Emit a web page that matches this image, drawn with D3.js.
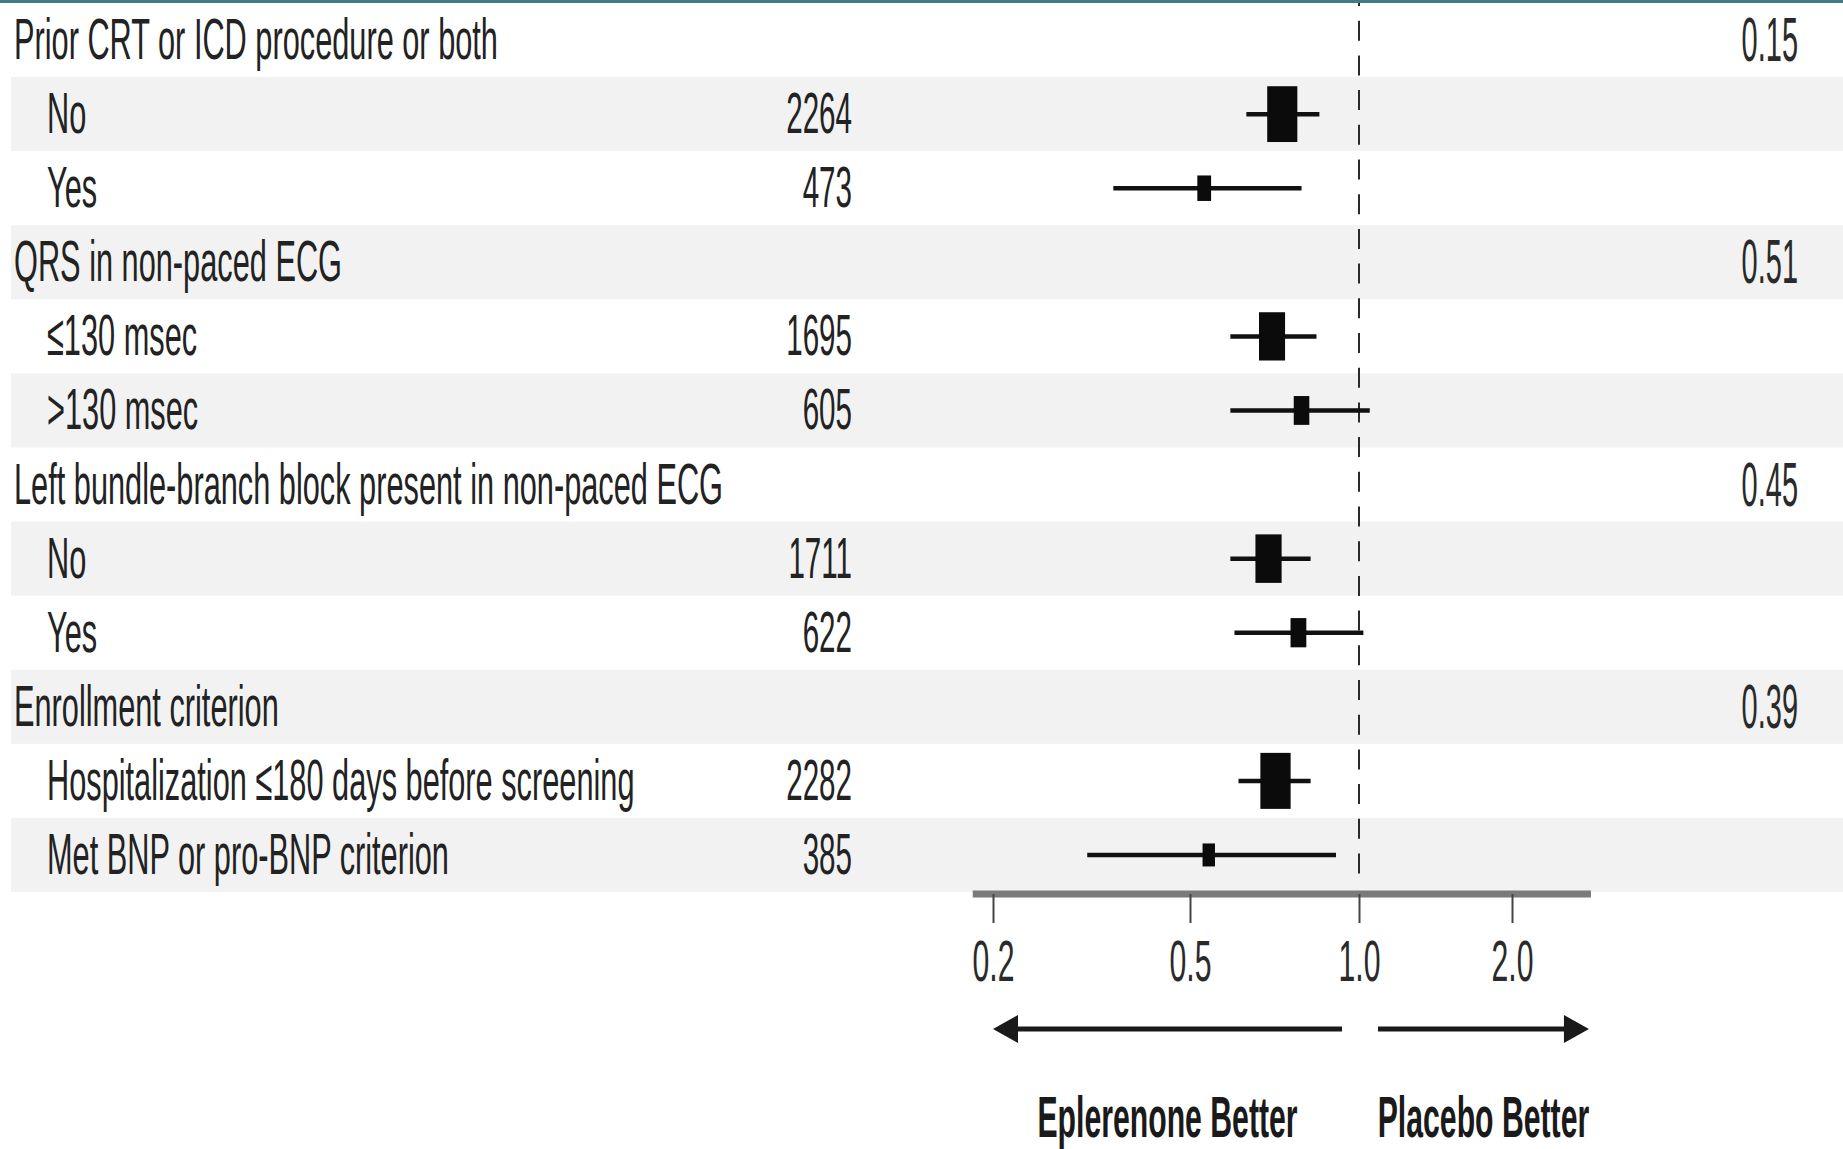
<!DOCTYPE html>
<html>
<head>
<meta charset="utf-8">
<script src="https://cdn.jsdelivr.net/npm/d3@7"></script>
<style>
	body { margin: 0; background: #fff; }
	svg { display: block; font-family: "Liberation Sans", Arial, sans-serif; }
</style>
</head>
<body>
<div id="chart"></div>
<script>

///////////////////////////////////////////////////////////////////////////
//////////////////////////////// Data /////////////////////////////////////
///////////////////////////////////////////////////////////////////////////

var labels = [
	"Prior CRT or ICD procedure or both", "No", "Yes",
	"QRS in non-paced ECG", "\u2264130 msec", ">130 msec",
	"Left bundle-branch block present in non-paced ECG", "No", "Yes",
	"Enrollment criterion", "Hospitalization \u2264180 days before screening", "Met BNP or pro-BNP criterion"
];
var isHeader = [true, false, false, true, false, false, true, false, false, true, false, false];
var patients = [null, 2264, 473, null, 1695, 605, null, 1711, 622, null, 2282, 385];
var hazardRatio = [null, 0.73, 0.53, null, 0.70, 0.79, null, 0.69, 0.78, null, 0.71, 0.54];
var ciLower = [null, 0.63, 0.35, null, 0.59, 0.59, null, 0.59, 0.60, null, 0.61, 0.31];
var ciUpper = [null, 0.85, 0.79, null, 0.84, 1.05, null, 0.82, 1.02, null, 0.82, 0.91];
var pInteraction = ["0.15", null, null, "0.51", null, null, "0.45", null, null, "0.39", null, null];

var tickValues = [0.2, 0.5, 1.0, 2.0];
var tickLabels = ["0.2", "0.5", "1.0", "2.0"];
var axisExtent = [0.182, 2.86];
var favourLabels = ["Eplerenone Better", "Placebo Better"];

///////////////////////////////////////////////////////////////////////////
//////////////////////////////// Setup ////////////////////////////////////
///////////////////////////////////////////////////////////////////////////

var width = 1843,
	height = 1149;

var svg = d3.select("#chart")
	.append("svg")
	.attr("width", width)
	.attr("height", height);

var textColor = "#222";

//Rows
var y = d3.scaleBand()
	.domain(d3.range(labels.length))
	.range([3, 892]);

//The printed axis is not evenly logarithmic, so follow its ticks piece by piece
var x = d3.scaleLog()
	.domain(tickValues)
	.range([993, 1190, 1359, 1512]);

//Box height from number of patients
var boxSize = d3.scaleSqrt()
	.domain([0, 2282])
	.range([0, 56]);

//Helper to squeeze text horizontally (the source font is very condensed)
function squeeze(sel, sx) {
	sel.attr("transform", function() {
		var t = d3.select(this);
		return "translate(" + t.attr("data-x") + "," + t.attr("data-y") + ") scale(" + sx + ",1)";
	});
}

///////////////////////////////////////////////////////////////////////////
/////////////////////////////// Background ////////////////////////////////
///////////////////////////////////////////////////////////////////////////

//Top colored rule
svg.append("rect")
	.attr("x", 0).attr("y", 0)
	.attr("width", width).attr("height", 3)
	.style("fill", "#3f7d85");

//Alternating row bands
svg.selectAll(".band")
	.data(d3.range(labels.length).filter(function(i) { return i % 2 === 1; }))
	.enter().append("rect")
	.attr("class", "band")
	.attr("x", 11)
	.attr("y", function(i) { return y(i); })
	.attr("width", width - 11)
	.attr("height", y.bandwidth())
	.style("fill", "#f2f2f2");

///////////////////////////////////////////////////////////////////////////
///////////////////////////////// Text ////////////////////////////////////
///////////////////////////////////////////////////////////////////////////

//Subgroup labels
svg.selectAll(".label")
	.data(labels)
	.enter().append("text")
	.attr("class", "label")
	.attr("data-x", function(d, i) { return isHeader[i] ? 14 : 47; })
	.attr("data-y", function(d, i) { return y(i) + y.bandwidth() / 2 + 19; })
	.style("font-size", "58px")
	.style("fill", textColor)
	.text(function(d) { return d; })
	.call(squeeze, 0.53);

//Number of patients
svg.selectAll(".count")
	.data(patients)
	.enter().filter(function(d) { return d !== null; })
	.append("text")
	.attr("class", "count")
	.attr("data-x", 852)
	.attr("data-y", function(d) { return y(patients.indexOf(d)) + y.bandwidth() / 2 + 19; })
	.style("font-size", "58px")
	.style("text-anchor", "end")
	.style("fill", textColor)
	.text(function(d) { return d; })
	.call(squeeze, 0.51);

//P value for interaction
svg.selectAll(".pval")
	.data(pInteraction)
	.enter().filter(function(d) { return d !== null; })
	.append("text")
	.attr("class", "pval")
	.attr("data-x", 1798)
	.attr("data-y", function(d) { return y(pInteraction.indexOf(d)) + y.bandwidth() / 2 + 21; })
	.style("font-size", "63px")
	.style("text-anchor", "end")
	.style("fill", "#2a2a2a")
	.text(function(d) { return d; })
	.call(squeeze, 0.46);

///////////////////////////////////////////////////////////////////////////
/////////////////////////////// Forest plot ///////////////////////////////
///////////////////////////////////////////////////////////////////////////

//Reference line at 1.0
svg.append("line")
	.attr("x1", x(1)).attr("x2", x(1))
	.attr("y1", 3).attr("y2", 878)
	.style("stroke", "#2a2a2a")
	.style("stroke-width", 2)
	.style("stroke-dasharray", "20,14.7")
	.style("stroke-dashoffset", 17);

var rows = d3.range(labels.length).filter(function(i) { return hazardRatio[i] !== null; });

//Confidence intervals
svg.selectAll(".ci")
	.data(rows)
	.enter().append("line")
	.attr("class", "ci")
	.attr("x1", function(i) { return x(ciLower[i]); })
	.attr("x2", function(i) { return x(ciUpper[i]); })
	.attr("y1", function(i) { return y(i) + y.bandwidth() / 2; })
	.attr("y2", function(i) { return y(i) + y.bandwidth() / 2; })
	.style("stroke", "#111")
	.style("stroke-width", 4.5);

//Point estimates
svg.selectAll(".box")
	.data(rows)
	.enter().append("rect")
	.attr("class", "box")
	.attr("x", function(i) { return x(hazardRatio[i]) - boxSize(patients[i]) * 0.27; })
	.attr("y", function(i) { return y(i) + y.bandwidth() / 2 - boxSize(patients[i]) / 2; })
	.attr("width", function(i) { return boxSize(patients[i]) * 0.54; })
	.attr("height", function(i) { return boxSize(patients[i]); })
	.style("fill", "#0b0b0b");

///////////////////////////////////////////////////////////////////////////
////////////////////////////////// Axis ///////////////////////////////////
///////////////////////////////////////////////////////////////////////////

var axisY = 894;

svg.append("line")
	.attr("x1", x(axisExtent[0])).attr("x2", x(axisExtent[1]))
	.attr("y1", axisY).attr("y2", axisY)
	.style("stroke", "#7a7a7a")
	.style("stroke-width", 7);

var xAxis = svg.append("g")
	.attr("class", "x axis")
	.attr("transform", "translate(0," + axisY + ")")
	.call(d3.axisBottom(x)
		.tickValues(tickValues)
		.tickFormat(function(d, i) { return tickLabels[i]; })
		.tickSize(29));

xAxis.select(".domain").remove();
xAxis.selectAll(".tick line")
	.style("stroke", "#444")
	.style("stroke-width", 2);
xAxis.selectAll(".tick text")
	.attr("y", 87)
	.attr("dy", 0)
	.attr("transform", "scale(0.53,1)")
	.style("font-family", "Liberation Sans, Arial, sans-serif")
	.style("font-size", "57px")
	.style("fill", "#2a2a2a");

//Direction arrows
var arrowY = 1029;
var arrows = [
	{ from: x(1) - 17, to: x(tickValues[0]) },
	{ from: x(1) + 19, to: x(axisExtent[1]) - 2 }
];

svg.selectAll(".arrowLine")
	.data(arrows)
	.enter().append("line")
	.attr("class", "arrowLine")
	.attr("x1", function(d) { return d.from; })
	.attr("x2", function(d) { return d.to + (d.to < d.from ? 20 : -20); })
	.attr("y1", arrowY).attr("y2", arrowY)
	.style("stroke", "#1a1a1a")
	.style("stroke-width", 5);

svg.selectAll(".arrowHead")
	.data(arrows)
	.enter().append("path")
	.attr("class", "arrowHead")
	.attr("d", function(d) {
		var dir = d.to < d.from ? 1 : -1;
		return "M" + d.to + "," + arrowY +
			"L" + (d.to + dir * 25) + "," + (arrowY - 14) +
			"L" + (d.to + dir * 25) + "," + (arrowY + 14) + "Z";
	})
	.style("fill", "#1a1a1a");

//Which treatment is better
svg.selectAll(".favour")
	.data(favourLabels)
	.enter().append("text")
	.attr("class", "favour")
	.attr("data-x", function(d, i) { return (arrows[i].from + arrows[i].to) / 2; })
	.attr("data-y", 1137)
	.style("font-size", "57px")
	.style("font-weight", "bold")
	.style("text-anchor", "middle")
	.style("fill", "#1a1a1a")
	.text(function(d) { return d; })
	.call(squeeze, 0.53);

</script>
</body>
</html>
